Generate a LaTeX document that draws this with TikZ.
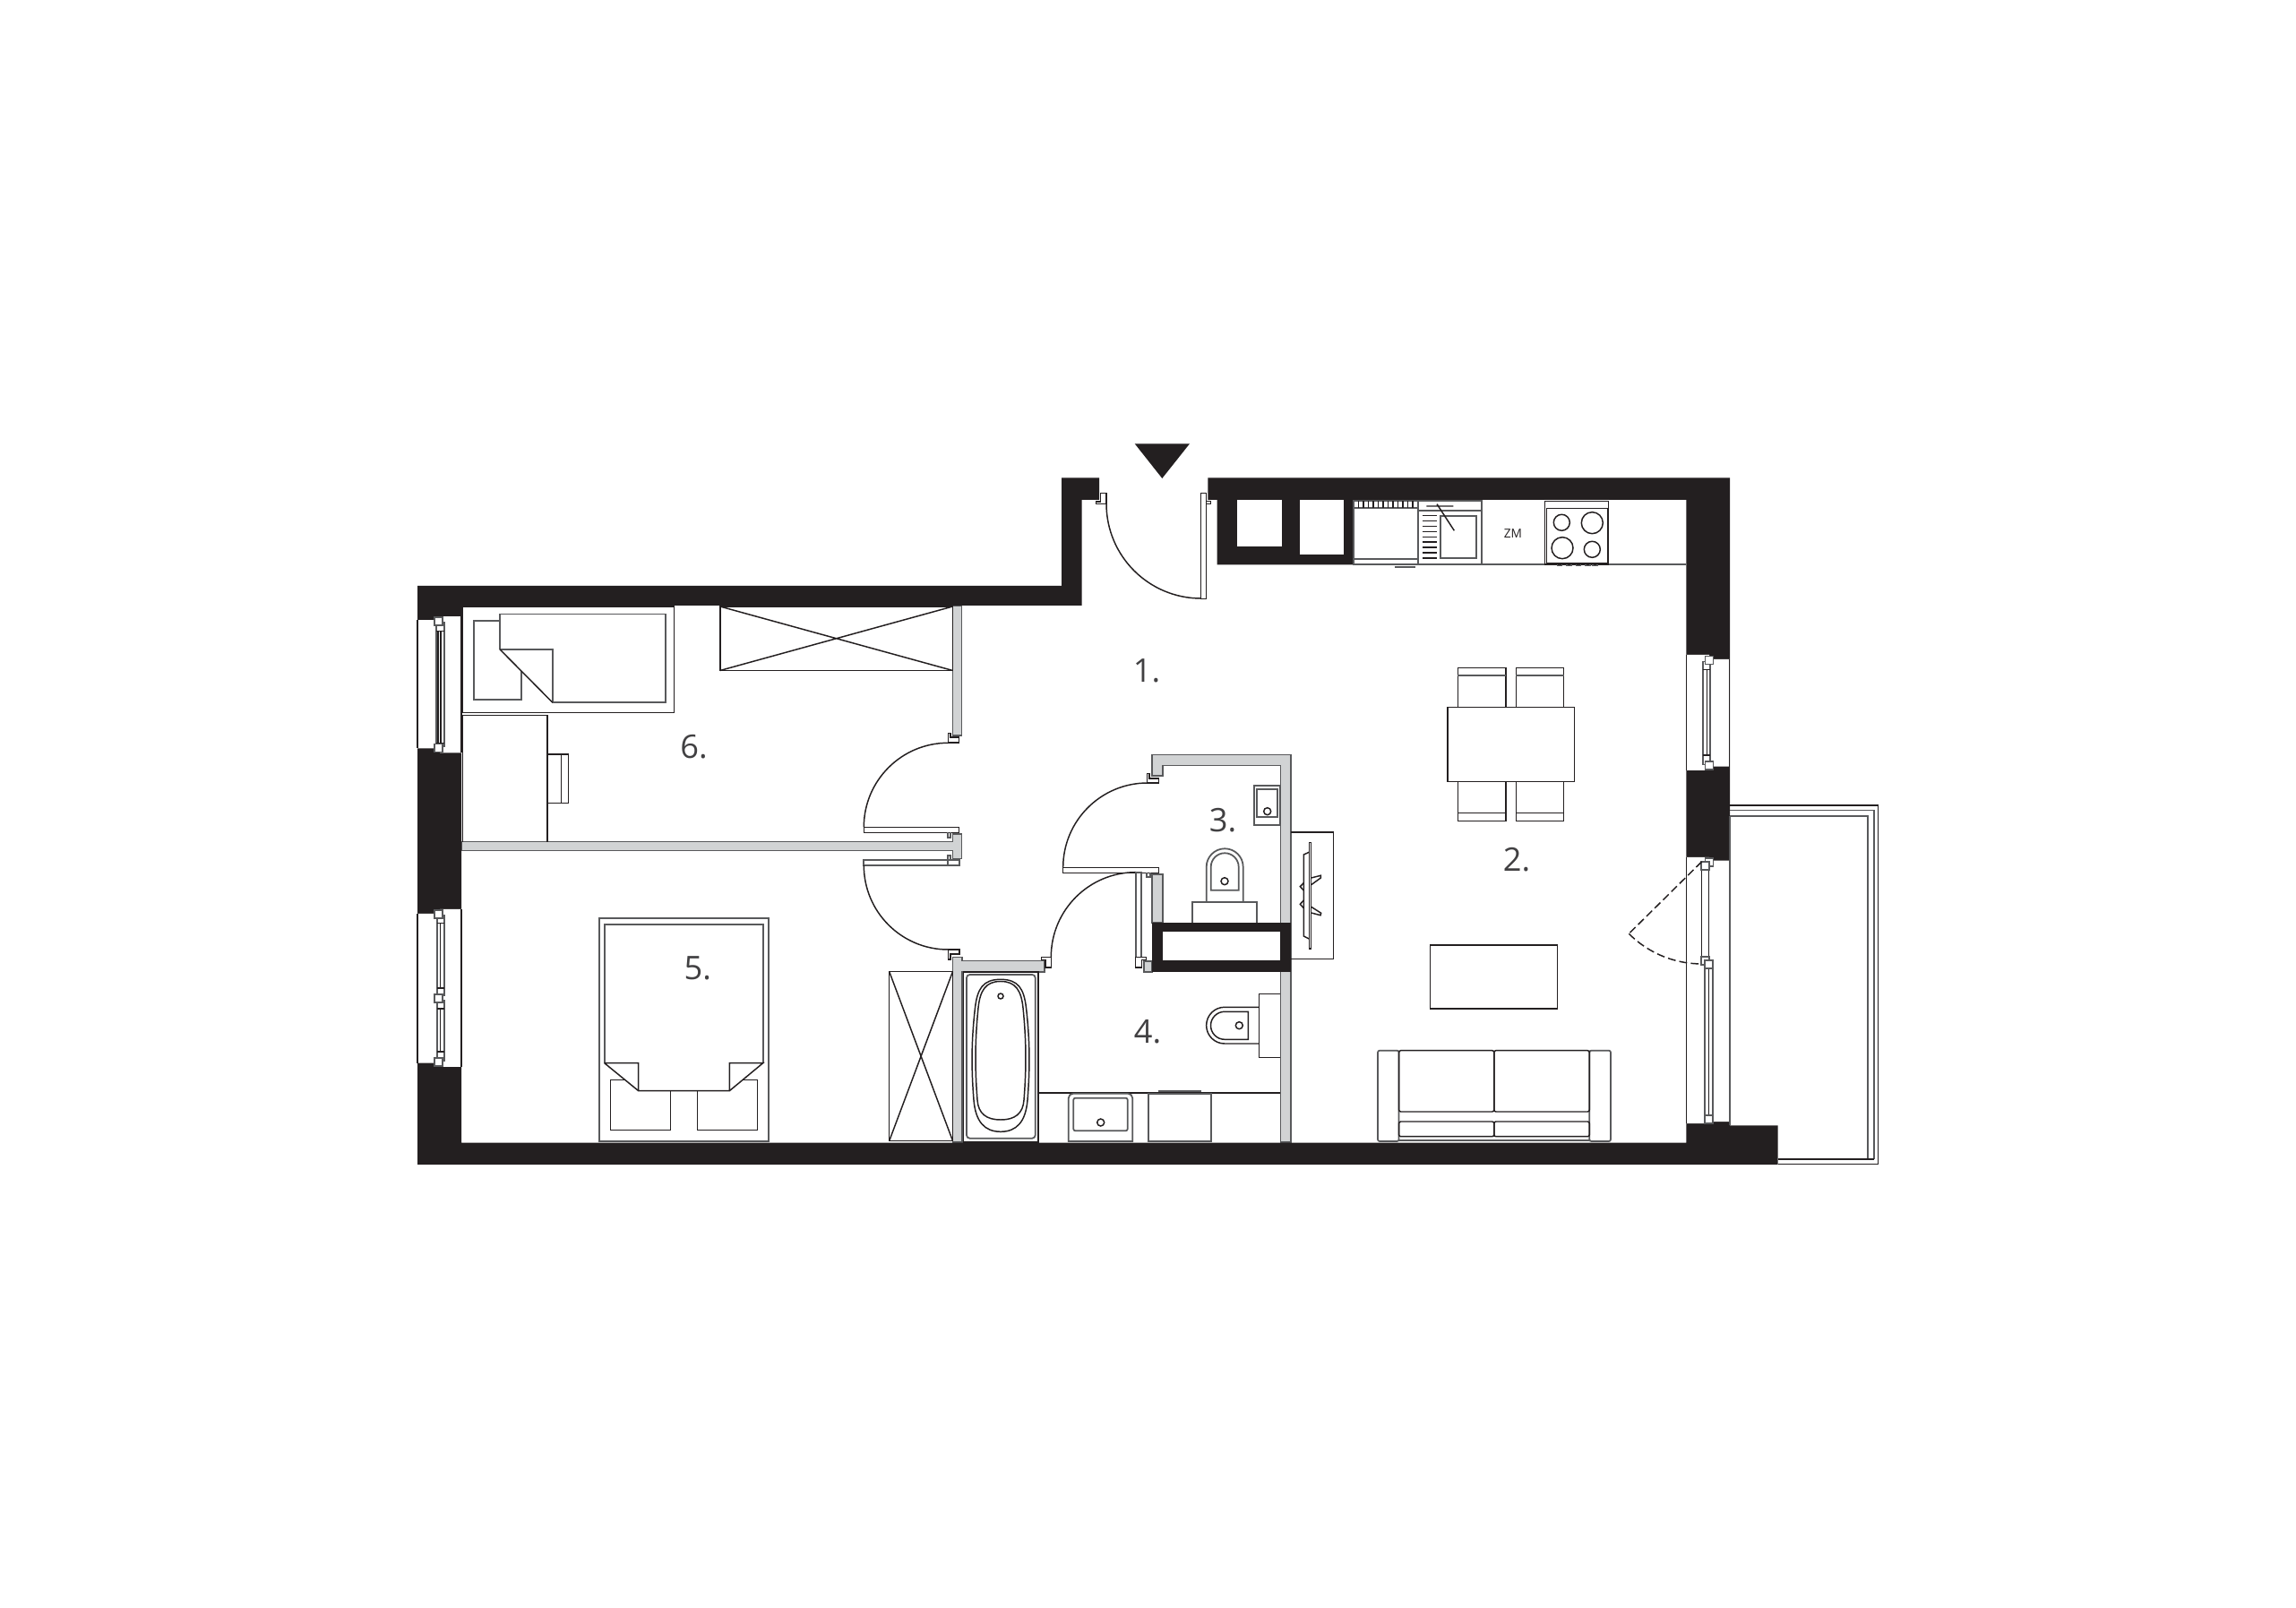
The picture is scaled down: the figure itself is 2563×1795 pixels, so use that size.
\documentclass[tikz,border=0pt]{standalone}
\usepackage{fontspec}
\setmainfont{Open Sans}
\definecolor{wallblack}{HTML}{231F20}
\definecolor{wallgrey}{HTML}{D1D3D4}
\definecolor{linegrey}{HTML}{58595B}
\definecolor{labelgrey}{HTML}{414042}
\tikzset{
  ln/.style={draw=wallblack,line width=0.42pt},
  gln/.style={draw=linegrey,line width=0.5pt},
  dashln/.style={ln,dash pattern=on 2.5pt off 1.2pt},
  whitebox/.style={ln,fill=white},
  blackwall/.style={fill=wallblack,draw=none},
  greywall/.style={fill=wallgrey,draw=linegrey,line width=0.45pt},
  glass/.style={fill=white,draw=none},
  roomlabel/.style={text=labelgrey,font=\fontsize{10.3}{13}\selectfont,inner sep=0pt},
}
\newcommand{\framesq}[2]{\draw[gln,fill=white] (#1,#2) rectangle ++(9,9);}
\begin{document}
\begin{tikzpicture}[x=0.01cm,y=-0.01cm]
  \useasboundingbox (0,0) rectangle (2563,1795);

  \draw[greywall] (1063.5,676) -- (1073.5,676) -- (1073.5,821) -- (1063.5,821) -- cycle;
  \draw[greywall] (515,939.3) -- (1063.5,939.3) -- (1063.5,931) -- (1073.5,931) -- (1073.5,958.3) -- (1063.5,958.3) -- (1063.5,949.3) -- (515,949.3) -- cycle;
  \draw[greywall] (1063.5,1275) -- (1063.5,1068.6) -- (1074,1068.6) -- (1074,1072.5) -- (1165.7,1072.5) -- (1165.7,1085) -- (1074,1085) -- (1074,1275) -- cycle;
  \draw[greywall] (1285.7,866) -- (1285.7,842.3) -- (1441,842.3) -- (1441,1275) -- (1429.3,1275) -- (1429.3,854.3) -- (1297.7,854.3) -- (1297.7,866) -- cycle;
  \draw[greywall] (1285.7,976) rectangle (1297.7,1030);
  \draw[greywall] (1276.7,1073) rectangle (1285.7,1085);

  \draw[blackwall] (466,654) -- (1185,654) -- (1185,533.3) -- (1227,533.3) -- (1227,558) -- (1207.7,558) -- (1207.7,676) -- (515,676) -- (515,1275.5) -- (1882.3,1275.5) -- (1882.3,558) -- (1510.7,558) -- (1510.7,630.3) -- (1358.7,630.3) -- (1358.7,558) -- (1348.3,558) -- (1348.3,533.3) -- (1931,533.3) -- (1931,1256.4) -- (1984.5,1256.4) -- (1984.5,1300) -- (466,1300) -- cycle;
  \draw[blackwall] (1285.7,1030) rectangle (1441,1085);
  \draw[glass] (1297.7,1040.3) rectangle (1429.3,1072.3);
  \draw[glass] (1380.7,558.3) rectangle (1430.7,610.3);
  \draw[glass] (1450.7,558.3) rectangle (1500,619.3);

  \draw[glass] (465,692.2) -- (491,692.2) -- (491,688.2) -- (514.8,688.2) -- (514.8,840.4) -- (491,840.4) -- (491,835.5) -- (465,835.5) -- cycle;
  \draw[glass] (465,1020) -- (491,1020) -- (491,1015) -- (514.8,1015) -- (514.8,1190.8) -- (491,1190.8) -- (491,1186.6) -- (465,1186.6) -- cycle;
  \draw[glass] (1882.6,731) -- (1908,731) -- (1908,736) -- (1930.6,736) -- (1930.6,855.6) -- (1908,855.6) -- (1908,860) -- (1882.6,860) -- cycle;
  \draw[glass] (1882.6,957) -- (1908,957) -- (1908,960.6) -- (1930.6,960.6) -- (1930.6,1252) -- (1908,1252) -- (1908,1254) -- (1882.6,1254) -- cycle;
  \draw[ln] (466,692.2) -- (466,835.5) (514.8,688.2) -- (514.8,840.4);
  \draw[ln] (466,1020) -- (466,1186.6) (514.8,1015) -- (514.8,1190.8);
  \draw[ln] (1882.6,731) -- (1882.6,860) (1930.6,736) -- (1930.6,855.6);
  \draw[ln] (1882.6,957) -- (1882.6,1254);
  \draw[gln] (1931,910.8) -- (1931,1256.4);

  \draw[gln,fill=white] (486.9,695) rectangle (496.2,833);
  \draw[ln] (489.1,704.7) -- (489.1,829.3) (491.8,704.7) -- (491.8,829.3) (486.9,704.7) -- (496.2,704.7) (486.9,829.3) -- (496.2,829.3);
  \framesq{484.8}{689} \framesq{484.8}{830.5}
  \draw[gln,fill=white] (487.7,1021.7) rectangle (496,1111);
  \draw[gln,fill=white] (487.7,1116.7) rectangle (496,1184);
  \draw[ln] (491.7,1030.7) -- (491.7,1103) (487.7,1030.7) -- (496,1030.7) (487.7,1103) -- (496,1103);
  \draw[ln] (491.7,1126) -- (491.7,1174) (487.7,1126) -- (496,1126) (487.7,1174) -- (496,1174);
  \framesq{484.8}{1015.7} \framesq{484.8}{1110.2} \framesq{484.8}{1181}
  \draw[gln,fill=white] (1900.7,738.6) rectangle (1909.3,853.5);
  \draw[ln] (1905.3,747.7) -- (1905.3,843) (1900.7,747.7) -- (1909.3,747.7) (1900.7,843) -- (1909.3,843);
  \framesq{1903.4}{732.4} \framesq{1903.4}{850}
  \framesq{1903.4}{957.7}
  \draw[whitebox] (1899.7,961.8) rectangle (1907.7,1076.8);
  \framesq{1899}{961.8} \framesq{1899}{1067.8}
  \draw[gln,fill=white] (1903.3,1072) rectangle (1912.3,1254);
  \draw[ln] (1903.3,1081) -- (1907.7,1081) (1907.7,1072) -- (1907.7,1254);
  \framesq{1903.3}{1072} \framesq{1903.3}{1245}
  \draw[dashln] (1899.7,961.8) -- (1818.3,1042.3);
  \draw[dashln] (1818.3,1042.3) arc (135:90:115);

  \draw[fill=wallblack,draw=none] (1266.7,495.3) -- (1328,495.3) -- (1297.3,534) -- cycle;

  \draw[ln] (2096.7,899.2) -- (1931,899.2) (2096.7,899.2) -- (2096.7,1299.6) -- (1984.5,1299.6);
  \draw[gln] (1931,904.6) -- (2091.7,904.6) -- (2091.7,1294);
  \draw[gln] (1931,910.8) -- (2085,910.8) -- (2085,1294);
  \draw[ln] (1984.5,1294) -- (2091.7,1294);

  \draw[whitebox] (1340.7,550.3) rectangle (1346.7,668.7);
  \draw[ln,fill=white] (1346.7,559.3) -- (1351.7,559.3) -- (1351.7,562.3) -- (1346.7,562.3);
  \draw[ln,fill=white] (1228.3,550.3) -- (1235,550.3) -- (1235,562.3) -- (1223.7,562.3) -- (1223.7,560) -- (1228.3,560) -- cycle;
  \draw[ln] (1235,562.3) arc (180:90:105.7);

  \draw[ln,fill=white] (1058.3,818.3) -- (1061,818.3) -- (1061,823) -- (1070.7,823) -- (1070.7,829) -- (1058.3,829) -- cycle;
  \draw[ln] (964.3,923.3) arc (180:270:94);
  \draw[whitebox] (964.3,923.3) rectangle (1070.7,929.3);
  \draw[gln] (1058.3,929.3) -- (1058.3,934.7) -- (1061,934.7) -- (1061,929.3);
  \draw[gln,fill=white] (964.3,959.7) rectangle (1071,966);
  \draw[gln] (1058.3,959.7) -- (1058.3,955) -- (1061,955) -- (1061,959.7) (1058.3,959.7) -- (1058.3,966);
  \draw[ln] (964.3,966) arc (180:90:94);
  \draw[ln,fill=white] (1058.3,1060) -- (1071,1060) -- (1071,1065) -- (1061,1065) -- (1061,1071) -- (1058.3,1071) -- cycle;

  \draw[ln,fill=white] (1280.3,863.3) -- (1283,863.3) -- (1283,869) -- (1293.3,869) -- (1293.3,874) -- (1280.3,874) -- cycle;
  \draw[ln] (1186.7,968.3) arc (180:270:94.3);
  \draw[whitebox] (1186.7,968.3) rectangle (1293.3,974.3);
  \draw[gln] (1280.3,974.3) -- (1280.3,979.3) -- (1284,979.3) -- (1284,974.3);
  \draw[ln] (1173.3,1068.3) arc (180:270:94.6);
  \draw[gln,fill=white] (1267.7,973.7) rectangle (1274.3,1080);
  \draw[ln,fill=white] (1267.7,1068.3) -- (1279.3,1068.3) -- (1279.3,1071.7) -- (1274.3,1071.7) -- (1274.3,1080) -- (1267.7,1080) -- cycle;
  \draw[ln,fill=white] (1162.7,1068.3) -- (1173.3,1068.3) -- (1173.3,1080) -- (1167,1080) -- (1167,1071.7) -- (1162.7,1071.7) -- cycle;

  \draw[ln] (516,677) rectangle (752.5,795.4);
  \draw[gln] (557.9,692.7) -- (528.8,692.7) -- (528.8,781) -- (582,781) -- (582,749.4);
  \draw[gln] (557.9,724.8) -- (557.9,685.5) -- (743,685.5) -- (743,784.2) -- (616.8,784.2) -- (616.8,724.8) -- (557.9,724.8);
  \draw[ln] (557.9,724.8) -- (616.8,784.2);
  \draw[ln] (516.3,940) -- (516.3,798.5) -- (611,798.5) -- (611,940);
  \draw[ln] (611,842.2) -- (634.6,842.2) -- (634.6,896.3) -- (611,896.3) (626.6,842.2) -- (626.6,896.3);
  \draw[ln] (803.8,677) rectangle (1063.5,748.5);
  \draw[ln] (803.8,677) -- (1063.5,748.5) (803.8,748.5) -- (1063.5,677);

  \draw[gln] (668.7,1025.3) rectangle (858,1274);
  \draw[gln] (674.7,1186.7) -- (674.7,1031.7) -- (851.7,1031.7) -- (851.7,1186.7);
  \draw[ln] (674.7,1186.7) -- (712.7,1186.7) -- (712.7,1217.7) -- (814.3,1217.7) -- (814.3,1186.7) -- (851.7,1186.7) -- (814.3,1217.7) (674.7,1186.7) -- (712.7,1217.7);
  \draw[ln] (697.3,1205.3) -- (681.3,1205.3) -- (681.3,1261.3) -- (748.3,1261.3) -- (748.3,1217.7);
  \draw[ln] (830,1205.3) -- (845.7,1205.3) -- (845.7,1261.3) -- (778.3,1261.3) -- (778.3,1217.7);
  \draw[ln] (992.7,1084.6) rectangle (1063.5,1273.5);
  \draw[ln] (992.7,1084.6) -- (1063.5,1273.5) (992.7,1273.5) -- (1063.5,1084.6);

  \draw[ln] (1075.3,1085) rectangle (1159,1275);
  \draw[gln,rounded corners=1pt] (1079,1088) rectangle (1155.7,1270.7);
  \draw[ln] (1117,1093.3) .. controls (1137,1093.3) and (1143,1104) .. (1145.5,1125) .. controls (1149.5,1160) and (1150,1190) .. (1147,1228) .. controls (1145,1252) and (1135,1263.3) .. (1117,1263.3) .. controls (1099,1263.3) and (1089,1252) .. (1087,1228) .. controls (1084,1190) and (1084.5,1160) .. (1088.5,1125) .. controls (1091,1104) and (1097,1093.3) .. cycle;
  \draw[ln] (1117,1095.5) .. controls (1134,1095.5) and (1140,1106) .. (1142,1125) .. controls (1145.5,1160) and (1146,1190) .. (1143,1228) .. controls (1142,1243) and (1133,1250) .. (1117,1250) .. controls (1101,1250) and (1092,1243) .. (1091,1228) .. controls (1088,1190) and (1088.5,1160) .. (1092,1125) .. controls (1094,1106) and (1100,1095.5) .. cycle;
  \draw[ln] (1117,1112) circle (3);

  \draw[gln] (1399.7,877.3) rectangle (1429.3,921.3);
  \draw[gln] (1403.3,880.7) rectangle (1426.3,912);
  \draw[ln] (1414.7,905.7) circle (4);
  \draw[gln] (1331.3,1030) -- (1331.3,1006.7) -- (1402.7,1006.7) -- (1402.7,1030);
  \draw[gln] (1346.7,1006.7) -- (1346.7,967.8) arc (180:360:20.5) -- (1387.7,1006.7);
  \draw[gln] (1351.7,993.7) -- (1351.7,967.8) arc (180:360:15.5) -- (1382.7,993.7) -- cycle;
  \draw[ln] (1367,983.7) circle (4);

  \draw[ln] (1441,929) -- (1488.7,929) -- (1488.7,1070.3) -- (1441,1070.3);
  \draw[ln,fill=white] (1461.3,940.7) rectangle (1463.7,1059);
  \draw[ln] (1461.3,951.3) -- (1455.3,954) -- (1455.3,1045) -- (1461.3,1048);
  \draw[ln] (1463.7,980) -- (1474.3,977.3) -- (1474.3,980) -- (1463.7,987.7);
  \draw[ln] (1463.7,1012.3) -- (1474.7,1019.3) -- (1474,1021.7) -- (1463.7,1019);
  \draw[ln] (1455.3,985.7) -- (1451.3,989.7) -- (1455.3,994);
  \draw[ln] (1455.3,1005) -- (1451.3,1009.3) -- (1455.3,1013.7);

  \draw[ln] (1405.7,1124.3) -- (1405.7,1109.3) -- (1429.3,1109.3) (1429.3,1180.3) -- (1405.7,1180.3) -- (1405.7,1124.3);
  \draw[ln] (1405.7,1124.3) -- (1367,1124.3) arc (270:90:20.35) -- (1405.7,1165);
  \draw[ln] (1393.3,1129.3) -- (1367,1129.3) arc (270:90:15.5) -- (1393.3,1160.3) -- cycle;
  \draw[ln] (1383.3,1144.7) circle (4);
  \draw[ln] (1159,1220) -- (1429.3,1220);
  \draw[gln] (1192.7,1274) -- (1192.7,1226) arc (180:270:5.3) -- (1259,1220.7) arc (270:360:5.3) -- (1264.3,1274) -- cycle;
  \draw[gln,rounded corners=0.6pt] (1198.3,1225.7) rectangle (1258.7,1262.3);
  \draw[ln] (1228.7,1253) circle (4);
  \draw[gln] (1281.7,1220.7) rectangle (1352.3,1273.7);
  \draw[gln] (1293.3,1218.3) -- (1341.3,1218.3);

  \draw[gln] (1511,559.3) rectangle (1582.7,630);
  \draw[gln] (1511,567.3) -- (1582.7,567.3) (1511,624) -- (1582.7,624);
  \foreach \tx in {1516.5,1522,...,1580} {
    \draw[ln] (\tx,559.3) -- (\tx,567.3);
  }
  \draw[gln] (1557.3,633) -- (1580,633);
  \draw[gln] (1583.3,559.3) rectangle (1654,630);
  \draw[gln] (1583.3,570) -- (1654,570);
  \draw[gln] (1608.3,576) rectangle (1647.7,623.3);
  \foreach \ty in {575.7,581.6,...,624} {
    \draw[ln] (1588.3,\ty) -- (1604.3,\ty);
  }
  \draw[ln] (1592.3,565) -- (1622.3,565) (1604,562.7) -- (1623.3,592.3);
  \draw[gln] (1654,630) -- (1882.3,630);
  \draw[ln] (1724.3,559.3) rectangle (1795.7,630);
  \draw[ln] (1726.3,567.3) rectangle (1795,628.3);
  \draw[ln] (1743.3,583.3) circle (9);
  \draw[ln] (1777.3,583.7) circle (12);
  \draw[ln] (1744,611.7) circle (12);
  \draw[ln] (1777.3,613.3) circle (9);
  \foreach \kx in {1738.5,1749,1759.5,1770,1778} {
    \draw[gln] (\kx,630) -- ++(0,1.5) -- ++(5,0) -- ++(0,-1.5);
  }
  \node[inner sep=0pt,text=wallblack,font=\fontsize{3.9}{5}\selectfont] (zm) at (1689,595.7) {ZM};

  \draw[ln] (1627.3,789.3) -- (1627.3,745.3) -- (1681,745.3) -- (1681,789.3);
  \draw[ln] (1692.3,789.3) -- (1692.3,745.3) -- (1745.7,745.3) -- (1745.7,789.3);
  \draw[gln] (1627.3,754) -- (1681,754) (1692.3,754) -- (1745.7,754);
  \draw[ln] (1627.3,872.7) -- (1627.3,916.3) -- (1681,916.3) -- (1681,872.7);
  \draw[ln] (1692.3,872.7) -- (1692.3,916.3) -- (1745.7,916.3) -- (1745.7,872.7);
  \draw[ln] (1627.3,907.3) -- (1681,907.3) (1692.3,907.3) -- (1745.7,907.3);
  \draw[ln] (1616,789.3) rectangle (1757.7,872.7);
  \draw[ln] (1596.7,1055) rectangle (1738.7,1126);

  \draw[gln,rounded corners=0.6pt] (1538,1172.7) rectangle (1561.6,1274);
  \draw[gln,rounded corners=0.6pt] (1774.3,1172.7) rectangle (1798,1274);
  \draw[ln,rounded corners=0.6pt] (1561.6,1172.7) rectangle (1667.8,1241);
  \draw[ln,rounded corners=0.6pt] (1667.8,1172.7) rectangle (1774.3,1241);
  \draw[ln,rounded corners=0.6pt] (1561.6,1252) rectangle (1667.8,1268.7);
  \draw[ln,rounded corners=0.6pt] (1667.8,1252) rectangle (1774.3,1268.7);
  \draw[gln] (1561.6,1273) -- (1774.3,1273);

  \node[roomlabel] (room1) at (1280,749) {1.};
  \node[roomlabel] (room2) at (1693,960) {2.};
  \node[roomlabel] (room3) at (1365,915.5) {3.};
  \node[roomlabel] (room4) at (1281,1152) {4.};
  \node[roomlabel] (room5) at (778.7,1081) {5.};
  \node[roomlabel] (room6) at (774.6,834) {6.};
\end{tikzpicture}
\end{document}
